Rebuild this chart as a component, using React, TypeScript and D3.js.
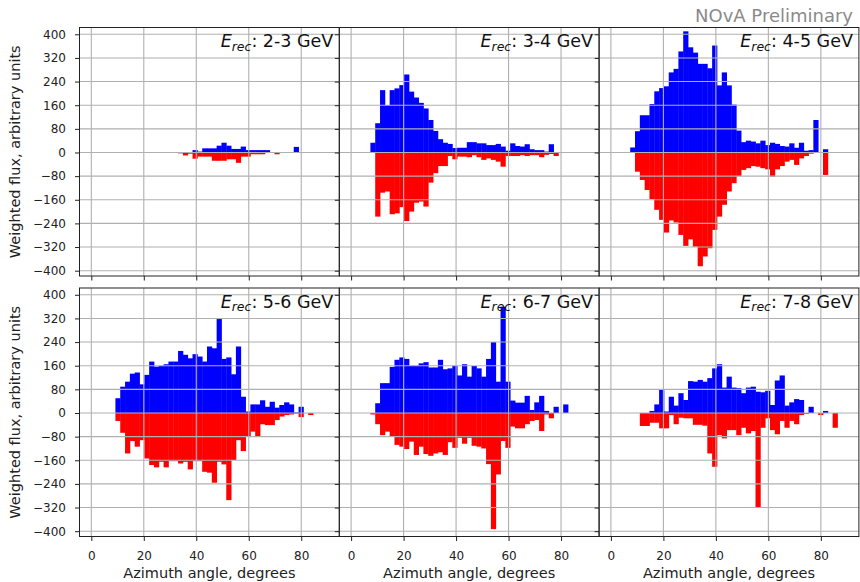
import React, { useEffect, useRef } from 'react';
import * as d3 from 'd3';

// 49 bins between 0 and 90 degrees
const binWidth = 90 / 49;
const binStarts = d3.range(49).map(i => i * binWidth);

const energyBins = ['2-3', '3-4', '4-5', '5-6', '6-7', '7-8'];
const xTicks = [0, 20, 40, 60, 80];
const yTicks = [-400, -320, -240, -160, -80, 0, 80, 160, 240, 320, 400];

// blue = positive part, red = negative part (stored as magnitudes)
const blue23 = [
  0, 0, 0, 0, 0, 0, 0, 0, 0, 0,
  0, 0, 0, 0, 0, 0, 0, 0, 0, 0,
  0, 8, 3, 14, 14, 14, 23, 33, 23, 12,
  12, 20, 8, 8, 8, 8, 8, 0, 0, 0,
  0, 0, 19, 0, 0, 0, 0, 0, 0];
const red23 = [
  0, 0, 0, 0, 0, 0, 0, 0, 0, 0,
  0, 0, 0, 0, 0, 0, 0, 0, 3, 10,
  4, 21, 14, 14, 14, 28, 28, 28, 23, 23,
  35, 14, 14, 6, 6, 6, 0, 0, 6, 0,
  0, 0, 0, 0, 0, 0, 0, 0, 0];

const blue34 = [
  0, 0, 0, 0, 33, 99, 211, 160, 211, 217,
  228, 264, 206, 186, 168, 149, 110, 73, 45, 33,
  29, 15, 16, 16, 35, 35, 31, 31, 25, 25,
  29, 20, 6, 31, 22, 20, 28, 11, 8, 8,
  3, 28, 0, 0, 0, 0, 0, 0, 0];
const red34 = [
  0, 0, 0, 0, 0, 217, 136, 132, 209, 206,
  185, 232, 200, 170, 166, 183, 102, 70, 46, 46,
  12, 23, 14, 14, 16, 9, 16, 25, 20, 25,
  31, 48, 12, 12, 12, 9, 12, 9, 9, 16,
  8, 5, 12, 0, 0, 0, 0, 0, 0];

const blue45 = [
  0, 0, 0, 0, 17, 72, 126, 126, 164, 207,
  218, 224, 271, 283, 342, 410, 356, 338, 300, 300,
  285, 362, 227, 271, 227, 162, 74, 35, 40, 37,
  31, 40, 25, 33, 29, 22, 20, 31, 16, 33,
  6, 8, 110, 0, 11, 0, 0, 0, 0];
const red45 = [
  0, 0, 0, 0, 0, 65, 93, 127, 158, 194,
  228, 271, 230, 237, 279, 316, 294, 319, 385, 352,
  324, 262, 217, 177, 132, 104, 80, 59, 53, 46,
  48, 53, 57, 82, 57, 46, 31, 25, 42, 20,
  12, 4, 0, 0, 76, 0, 0, 0, 0];

const blue56 = [
  0, 0, 0, 0, 0, 50, 89, 106, 133, 137,
  97, 129, 174, 157, 160, 165, 174, 174, 210, 197,
  185, 199, 191, 174, 225, 219, 318, 183, 188, 131,
  225, 55, 5, 29, 29, 43, 21, 38, 18, 27,
  36, 29, 2, 21, 0, 0, 0, 0, 0];
const red56 = [
  0, 0, 0, 0, 0, 27, 67, 137, 95, 114,
  92, 154, 176, 184, 165, 184, 163, 163, 171, 165,
  191, 163, 163, 199, 202, 236, 165, 174, 295, 159,
  92, 129, 78, 63, 78, 38, 41, 41, 24, 12,
  7, 5, 2, 14, 0, 7, 0, 0, 0];

const blue67 = [
  0, 0, 0, 0, 0, 33, 101, 101, 156, 180,
  188, 183, 160, 160, 168, 172, 154, 154, 180, 148,
  151, 160, 127, 165, 123, 159, 151, 123, 183, 240,
  106, 360, 106, 42, 35, 35, 58, 10, 36, 58,
  7, 0, 21, 0, 29, 0, 0, 0, 0];
const red67 = [
  0, 0, 0, 0, 5, 38, 75, 63, 78, 108,
  114, 122, 97, 142, 114, 139, 145, 137, 133, 142,
  99, 118, 84, 104, 84, 111, 114, 120, 173, 393,
  208, 95, 118, 46, 52, 52, 38, 27, 24, 61,
  5, 18, 0, 0, 0, 0, 0, 0, 0];

const blue78 = [
  0, 0, 0, 0, 0, 0, 0, 0, 7, 29,
  78, 5, 55, 25, 67, 44, 108, 106, 112, 106,
  118, 151, 165, 86, 123, 86, 84, 67, 86, 89,
  72, 70, 75, 27, 110, 127, 25, 36, 47, 44,
  0, 21, 0, 0, 7, 0, 0, 0, 0];
const red78 = [
  0, 0, 0, 0, 0, 0, 44, 44, 33, 33,
  52, 52, 7, 38, 16, 18, 18, 40, 40, 43,
  137, 182, 75, 86, 58, 58, 75, 50, 69, 61,
  320, 50, 18, 58, 72, 27, 50, 27, 38, 7,
  3, 0, 0, 7, 0, 0, 50, 0, 0];

const positives = [blue23, blue34, blue45, blue56, blue67, blue78];
const negatives = [red23, red34, red45, red56, red67, red78];

const FONT = 'DejaVu Sans, sans-serif';

const App = () => {
  const svgRef = useRef<SVGSVGElement | null>(null);

  useEffect(() => {
    const svg = d3.select(svgRef.current);
    svg.selectAll('*').remove();

    const panelW = 259.8;
    const panelH = 248.5;
    const lefts = [79.5, 339.3, 599.1];
    const tops = [27.5, 288];

    const x = d3.scaleLinear().domain([-4.5, 94.5]).range([0, panelW]);
    const y = d3.scaleLinear().domain([-418, 423]).range([panelH, 0]);

    energyBins.forEach((label, k) => {
      const col = k % 3;
      const row = Math.floor(k / 3);
      const g = svg.append('g').attr('transform', `translate(${lefts[col]},${tops[row]})`);

      const pos = positives[k].map((v, i) => ({ v, x0: binStarts[i] })).filter(d => d.v > 0);
      const neg = negatives[k].map((v, i) => ({ v, x0: binStarts[i] })).filter(d => d.v > 0);

      g.selectAll('.pos').data(pos).join('rect')
        .attr('class', 'pos')
        .attr('x', d => x(d.x0))
        .attr('width', d => x(d.x0 + binWidth) - x(d.x0) + 0.4)
        .attr('y', d => y(d.v))
        .attr('height', d => y(0) - y(d.v))
        .attr('fill', '#0000ff');

      g.selectAll('.neg').data(neg).join('rect')
        .attr('class', 'neg')
        .attr('x', d => x(d.x0))
        .attr('width', d => x(d.x0 + binWidth) - x(d.x0) + 0.4)
        .attr('y', y(0))
        .attr('height', d => y(-d.v) - y(0))
        .attr('fill', '#ff0000');

      // grid sits above the bars
      g.selectAll('.vgrid').data(xTicks).join('line')
        .attr('x1', d => x(d)).attr('x2', d => x(d))
        .attr('y1', 0).attr('y2', panelH)
        .attr('stroke', '#b0b0b0').attr('stroke-width', 1.1);
      g.selectAll('.hgrid').data(yTicks).join('line')
        .attr('y1', d => y(d)).attr('y2', d => y(d))
        .attr('x1', 0).attr('x2', panelW)
        .attr('stroke', '#b0b0b0').attr('stroke-width', 1.1);

      const xAxis = g.append('g')
        .attr('transform', `translate(0,${panelH})`)
        .call(d3.axisBottom(x).tickValues(xTicks).tickSize(4.5).tickPadding(10.5)
          .tickFormat(row === 1 ? d3.format('d') : () => ''));
      const yAxis = g.append('g')
        .call(d3.axisLeft(y).tickValues(yTicks).tickSize(4.5).tickPadding(9)
          .tickFormat(col === 0 ? d3.format('d') : () => ''));
      [xAxis, yAxis].forEach(a => {
        a.select('.domain').remove();
        a.selectAll('text').attr('font-size', 12).attr('font-family', FONT).attr('fill', '#222');
        a.selectAll('line').attr('stroke', '#222').attr('stroke-width', 1);
      });

      g.append('rect')
        .attr('width', panelW).attr('height', panelH)
        .attr('fill', 'none').attr('stroke', '#222').attr('stroke-width', 1);

      const t = g.append('text')
        .attr('x', panelW - 6).attr('y', 19.5)
        .attr('text-anchor', 'end')
        .attr('font-family', FONT).attr('font-size', 17.5).attr('fill', '#111');
      t.append('tspan').attr('font-style', 'italic').text('E');
      t.append('tspan').attr('font-style', 'italic').attr('font-size', 12.5).attr('dy', 3.8).text('rec');
      t.append('tspan').attr('dy', -3.8).text(`: ${label} GeV`);

      if (row === 1) {
        g.append('text')
          .attr('x', panelW / 2).attr('y', panelH + 41)
          .attr('text-anchor', 'middle')
          .attr('font-family', FONT).attr('font-size', 14.5).attr('fill', '#222')
          .text('Azimuth angle, degrees');
      }
      if (col === 0) {
        g.append('text')
          .attr('transform', `translate(${20 - lefts[0]},${panelH / 2}) rotate(-90)`)
          .attr('text-anchor', 'middle')
          .attr('font-family', FONT).attr('font-size', 14.5).attr('fill', '#222')
          .text('Weighted flux, arbitrary units');
      }
    });

    svg.append('text')
      .attr('x', 853).attr('y', 22)
      .attr('text-anchor', 'end')
      .attr('font-family', FONT).attr('font-size', 18).attr('fill', '#8a8a8a')
      .text('NOvA Preliminary');
  }, []);

  return (
    <svg ref={svgRef} width={860} height={582}
      style={{ position: 'absolute', left: 0, top: 0, background: '#fff' }} />
  );
};

export default App;
